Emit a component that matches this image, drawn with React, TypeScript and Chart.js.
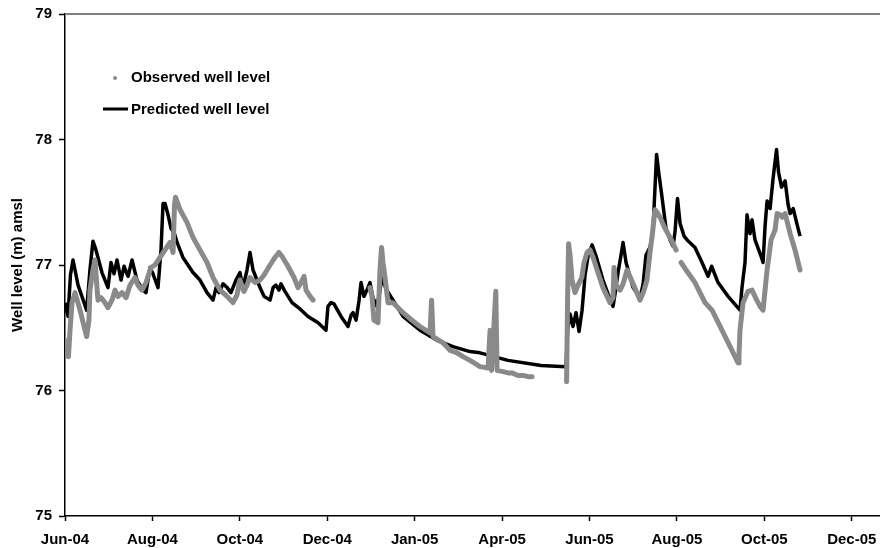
import React, { useEffect, useRef } from 'react';
import { Chart, registerables } from 'chart.js';

Chart.register(...registerables);

// X axis: days since 1 Jun 2004; Excel-style date axis with a 61-day major unit
const tickLabels = ['Jun-04', 'Aug-04', 'Oct-04', 'Dec-04', 'Jan-05', 'Apr-05', 'Jun-05', 'Aug-05', 'Oct-05', 'Dec-05'];
const tickStepDays = 61;
const xMinDays = 0;
const xMaxDays = 568.7;
const yMin = 75;
const yMax = 79;
const yStep = 1;

const seriesLabels = ['Observed well level', 'Predicted well level'];

const predictedDays = [
  0, 2.1, 3.8, 5.6, 9.1, 15.1, 17.4, 19.5, 21.6, 25.8, 30.0, 32.1, 34.2, 36.3, 39.1, 41.2, 44.0, 46.8, 50.2, 54.4,
  56.5, 59.3, 61.4, 64.9, 67.0, 68.4, 69.8, 71.9, 74.0, 76.1, 78.2, 82.3, 89.3, 94.2, 99.1, 103.3, 105.4, 107.5, 110.3, 113.1,
  115.8, 119.3, 122.1, 124.2, 127.0, 129.1, 131.2, 134.0, 136.1, 138.9, 140.3, 143.1, 145.2, 147.2, 149.3, 150.7, 153.5, 158.4, 164.0, 169.6,
  176.6, 182.1, 183.5, 185.6, 187.7, 192.6, 197.5, 199.6, 201.0, 203.1, 205.2, 206.6, 208.6, 210.7, 212.8, 214.9, 217.7, 219.8, 221.2, 224.0,
  228.9, 235.9, 247.7, 259.6, 270.8, 282.6, 289.6, 309.1, 332.2, 349.6, 350.7, 352.4, 354.5, 356.6, 358.7, 360.8, 362.9, 365.0, 367.8, 370.6,
  375.4, 378.9, 382.4, 383.8, 385.9, 388.0, 389.4, 391.5, 396.4, 401.3, 403.4, 405.4, 408.2, 410.3, 412.8, 414.5, 416.6, 419.4, 422.2, 424.3,
  425.7, 427.4, 429.2, 432.0, 434.1, 439.6, 444.5, 448.7, 451.2, 455.7, 462.7, 471.0, 472.4, 474.5, 475.9, 478.0, 479.4, 481.5, 486.0, 487.1,
  488.5, 489.9, 492.0, 494.1, 496.5, 497.9, 500.0, 502.5, 504.6, 506.0, 508.1, 510.9, 512.9,
];
const predictedLevels = [
  76.70, 76.59, 76.92, 77.04, 76.84, 76.64, 76.96, 77.19, 77.12, 76.94, 76.82, 77.02, 76.93, 77.04, 76.88, 76.99, 76.91, 77.04, 76.88, 76.80,
  76.78, 76.98, 76.93, 76.82, 77.12, 77.49, 77.49, 77.40, 77.29, 77.26, 77.18, 77.06, 76.94, 76.88, 76.78, 76.72, 76.82, 76.78, 76.85, 76.82,
  76.78, 76.88, 76.94, 76.82, 76.96, 77.10, 76.96, 76.88, 76.82, 76.75, 76.74, 76.72, 76.82, 76.84, 76.80, 76.85, 76.79, 76.70, 76.65, 76.59,
  76.54, 76.48, 76.67, 76.70, 76.69, 76.59, 76.51, 76.60, 76.62, 76.56, 76.72, 76.86, 76.75, 76.80, 76.86, 76.74, 76.67, 76.80, 76.90, 76.81,
  76.72, 76.59, 76.48, 76.40, 76.35, 76.31, 76.30, 76.24, 76.20, 76.19, 76.48, 76.61, 76.51, 76.62, 76.47, 76.64, 76.92, 77.07, 77.16, 77.07,
  76.88, 76.77, 76.67, 76.77, 76.94, 77.08, 77.18, 77.02, 76.82, 76.74, 76.85, 77.08, 77.14, 77.28, 77.88, 77.72, 77.54, 77.29, 77.20, 77.15,
  77.27, 77.53, 77.33, 77.23, 77.20, 77.14, 77.02, 76.91, 76.99, 76.86, 76.75, 76.64, 76.82, 77.02, 77.40, 77.25, 77.36, 77.20, 77.06, 77.02,
  77.31, 77.51, 77.45, 77.69, 77.92, 77.74, 77.62, 77.67, 77.48, 77.41, 77.45, 77.32, 77.23,
];

// null marks a gap in the logger record
const observedDays = [
  0, 1.4, 2.4, 3.5, 4.9, 7.0, 10.5, 15.1, 16.7, 17.4, 19.5, 20.9, 23.0, 25.1, 27.9, 30.0, 32.8, 34.9, 37.0, 39.8,
  42.6, 45.4, 48.8, 50.9, 53.7, 56.5, 60.0, 62.8, 66.3, 69.8, 73.3, 75.4, 76.4, 77.1, 80.3, 85.1, 89.3, 94.2, 99.1, 103.3,
  108.2, 113.1, 117.2, 120.0, 122.1, 124.9, 127.0, 129.1, 132.6, 136.1, 138.9, 143.1, 146.5, 149.3, 151.4, 155.6, 159.8, 162.6, 164.7, 166.8,
  168.2, 171.0, 173.1, 200.0, 212.8, 214.2, 215.6, 218.4, 219.8, 220.9, 221.9, 223.3, 225.4, 228.9, 232.4, 235.9, 242.1, 247.7, 254.7, 255.8,
  256.8, 263.8, 268.7, 273.6, 277.7, 282.6, 289.6, 295.2, 296.6, 297.6, 300.6, 301.5, 305.7, 309.1, 311.9, 316.1, 319.6, 323.1, 325.9, 340.0,
  350.0, 350.7, 351.4, 352.4, 353.8, 355.9, 358.0, 360.6, 362.2, 364.3, 366.4, 368.5, 371.3, 375.4, 380.3, 382.4, 383.1, 384.5, 387.3, 389.4,
  392.2, 396.4, 401.3, 404.1, 406.1, 408.2, 409.6, 411.7, 413.1, 415.2, 418.7, 422.2, 426.4, 428.0, 429.9, 433.4, 439.6, 446.6, 451.5, 458.5,
  464.1, 469.7, 470.3, 471.0, 473.1, 476.6, 479.4, 482.7, 485.0, 487.1, 488.5, 489.9, 492.7, 495.5, 496.9, 499.0, 500.4, 502.5, 506.0, 509.4,
  512.9,
];
const observedLevels = [
  76.40, 76.32, 76.27, 76.48, 76.70, 76.78, 76.64, 76.43, 76.56, 76.80, 76.96, 77.04, 76.72, 76.74, 76.70, 76.66, 76.72, 76.80, 76.75, 76.78,
  76.74, 76.84, 76.90, 76.84, 76.80, 76.86, 76.98, 77.00, 77.06, 77.12, 77.18, 77.10, 77.48, 77.54, 77.44, 77.34, 77.22, 77.12, 77.02, 76.90,
  76.80, 76.75, 76.70, 76.76, 76.88, 76.79, 76.84, 76.90, 76.86, 76.88, 76.92, 77.00, 77.06, 77.10, 77.07, 76.99, 76.90, 76.82, 76.86, 76.91,
  76.80, 76.75, 76.72, null, 76.82, 76.75, 76.56, 76.54, 76.96, 77.14, 77.02, 76.90, 76.70, 76.70, 76.66, 76.62, 76.56, 76.51, 76.46, 76.72,
  76.43, 76.38, 76.32, 76.30, 76.27, 76.24, 76.19, 76.18, 76.48, 76.16, 76.79, 76.16, 76.15, 76.14, 76.14, 76.12, 76.12, 76.11, 76.11, null,
  76.07, 76.72, 77.17, 77.08, 76.88, 76.78, 76.84, 76.90, 77.02, 77.10, 77.12, 77.06, 76.96, 76.82, 76.70, 76.74, 76.98, 76.84, 76.80, 76.85,
  76.96, 76.85, 76.72, 76.80, 76.88, 77.10, 77.22, 77.44, 77.42, 77.38, 77.29, 77.22, 77.12, null, 77.02, 76.96, 76.86, 76.70, 76.64, 76.48,
  76.35, 76.22, 76.28, 76.48, 76.70, 76.79, 76.80, 76.72, 76.67, 76.64, 76.80, 76.96, 77.20, 77.28, 77.41, 77.40, 77.38, 77.41, 77.25, 77.12,
  76.96,
];

const FONT_FAMILY = "'Liberation Sans', Arial, Helvetica, sans-serif";
const OBS_COLOR = '#8a8a8a';
const PRED_COLOR = '#000000';

const frameAndLegend = {
  id: 'frameAndLegend',
  afterDatasetsDraw(chart: any) {
    const { ctx, chartArea } = chart;
    ctx.save();
    // plot-area top border
    ctx.strokeStyle = '#808080';
    ctx.lineWidth = 2;
    ctx.beginPath();
    ctx.moveTo(chartArea.left, chartArea.top);
    ctx.lineTo(chartArea.right, chartArea.top);
    ctx.stroke();

    // legend inside plot area
    const ds = chart.data.datasets;
    ctx.font = `bold 15px ${FONT_FAMILY}`;
    ctx.textBaseline = 'middle';
    ctx.textAlign = 'left';
    const lx = chartArea.left;
    const ty = chartArea.top;
    // observed: dot marker
    ctx.fillStyle = OBS_COLOR;
    ctx.beginPath();
    ctx.arc(lx + 50, ty + 64, 2, 0, Math.PI * 2);
    ctx.fill();
    ctx.fillStyle = '#000';
    ctx.fillText(ds[0].label, lx + 66, ty + 64);
    // predicted: line
    ctx.strokeStyle = PRED_COLOR;
    ctx.lineWidth = 3;
    ctx.beginPath();
    ctx.moveTo(lx + 38, ty + 95);
    ctx.lineTo(lx + 63, ty + 95);
    ctx.stroke();
    ctx.fillText(ds[1].label, lx + 66, ty + 96);
    ctx.restore();
  },
};

export default function App() {
  const canvasRef = useRef<HTMLCanvasElement | null>(null);

  useEffect(() => {
    const canvas = canvasRef.current;
    if (!canvas) return;
    const observed = observedDays.map((d, i) => ({ x: d, y: observedLevels[i] }));
    const predicted = predictedDays.map((d, i) => ({ x: d, y: predictedLevels[i] }));
    const tickFont = { family: FONT_FAMILY, size: 15, weight: 'bold' as const };

    const chart = new Chart(canvas, {
      type: 'line',
      data: {
        datasets: [
          {
            label: seriesLabels[0],
            data: observed as any,
            borderColor: OBS_COLOR,
            backgroundColor: OBS_COLOR,
            borderWidth: 5,
            pointRadius: 0,
            spanGaps: false,
            tension: 0,
            borderJoinStyle: 'round',
            borderCapStyle: 'round',
          },
          {
            label: seriesLabels[1],
            data: predicted as any,
            borderColor: PRED_COLOR,
            backgroundColor: PRED_COLOR,
            borderWidth: 3.5,
            pointRadius: 0,
            tension: 0,
            borderJoinStyle: 'round',
          },
        ],
      },
      options: {
        responsive: false,
        animation: false,
        events: [],
        layout: { padding: { top: 14, right: 0, left: 0, bottom: 0 } },
        plugins: {
          legend: { display: false },
          tooltip: { enabled: false },
          title: { display: false },
        },
        scales: {
          x: {
            type: 'linear',
            min: xMinDays,
            max: xMaxDays,
            afterBuildTicks: (scale: any) => {
              scale.ticks = tickLabels.map((_, i) => ({ value: i * tickStepDays }));
            },
            afterFit: (scale: any) => {
              scale.height = 32;
              scale.paddingLeft = 0;
              scale.paddingRight = 0;
            },
            ticks: {
              autoSkip: false,
              maxRotation: 0,
              minRotation: 0,
              padding: 10,
              color: '#000',
              font: tickFont,
              callback: (_v: any, i: number) => tickLabels[i],
            },
            grid: {
              drawOnChartArea: false,
              drawTicks: true,
              tickLength: 5,
              tickWidth: 1.5,
              tickColor: '#000',
            },
            border: { display: true, color: '#000', width: 1.5 },
          },
          y: {
            type: 'linear',
            min: yMin,
            max: yMax,
            afterFit: (scale: any) => {
              scale.width = 65;
              scale.paddingTop = 0;
              scale.paddingBottom = 0;
            },
            ticks: {
              stepSize: yStep,
              padding: 7,
              color: '#000',
              font: tickFont,
            },
            grid: {
              drawOnChartArea: false,
              drawTicks: true,
              tickLength: 6,
              tickWidth: 1.5,
              tickColor: '#000',
            },
            border: { display: true, color: '#000', width: 1.5 },
            title: {
              display: true,
              text: 'Well level (m) amsl',
              color: '#000',
              font: tickFont,
              padding: { top: 9, bottom: 0 },
            },
          },
        },
      },
      plugins: [frameAndLegend],
    });
    return () => chart.destroy();
  }, []);

  return (
    <div style={{ position: 'fixed', left: 0, top: 0, width: 880, height: 548, background: '#fff' }}>
      <canvas ref={canvasRef} width={880} height={548} style={{ display: 'block' }} />
    </div>
  );
}
